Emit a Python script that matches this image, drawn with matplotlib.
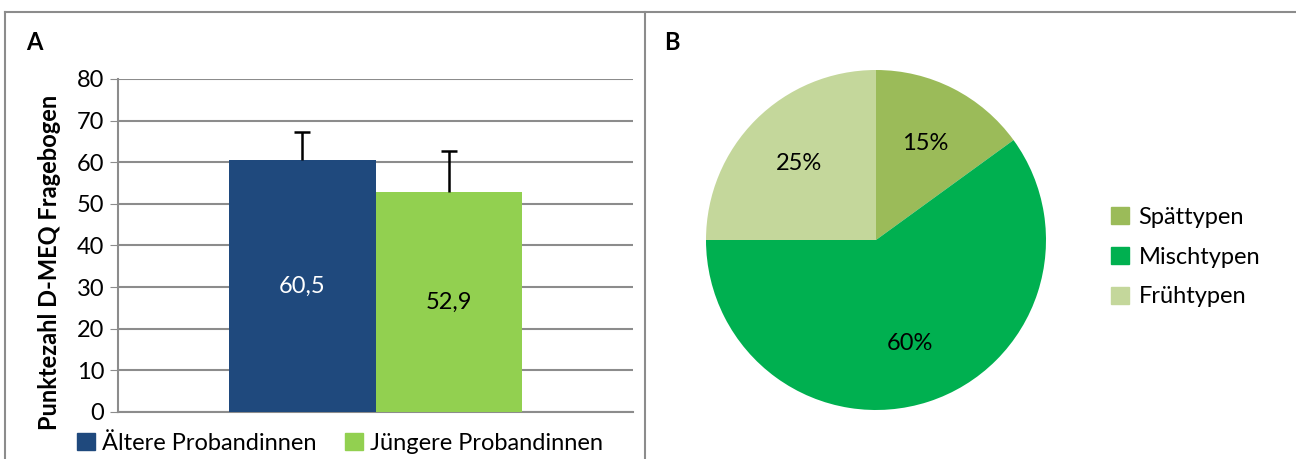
import matplotlib.pyplot as plt
from matplotlib.lines import Line2D
from matplotlib.patches import Patch

plt.rcParams['font.family'] = ['Lato', 'DejaVu Sans']

# bar chart data (panel A)
groups = ['Ältere Probandinnen', 'Jüngere Probandinnen']
means = [60.5, 52.9]
sds = [6.8, 9.9]
mean_labels = ['60,5', '52,9']
bar_colors = ['#1F497D', '#92D050']
yticks = [0, 10, 20, 30, 40, 50, 60, 70, 80]

# pie chart data (panel B)
types = ['Spättypen', 'Mischtypen', 'Frühtypen']
shares = [15, 60, 25]
pie_colors = ['#9BBB59', '#00B050', '#C4D79B']

fig = plt.figure(figsize=(12.96, 4.59), dpi=100)

# outer frame lines
frame_col = '#8c8c8c'
fig.add_artist(Line2D([5/1296, 1], [1 - 12/459] * 2, color=frame_col, lw=1.5))
fig.add_artist(Line2D([5/1296] * 2, [0, 1 - 12/459], color=frame_col, lw=1.5))
fig.add_artist(Line2D([645/1296] * 2, [0, 1 - 12/459], color=frame_col, lw=1.5))

# ---- panel A ----
ax = fig.add_axes([118/1296, 1 - 412/459, 515/1296, 333/459])
xs = list(range(len(means)))
bars = ax.bar(xs, means, width=1.0, color=bar_colors, zorder=3)
# upper error bars only, with a cap at the top
ax.errorbar(xs, means, yerr=[[0] * len(sds), sds], fmt='none', ecolor='black',
            elinewidth=1.8, capsize=0, zorder=4)
tops = [m + s for m, s in zip(means, sds)]
ax.scatter(xs, tops, marker='_', s=120, color='black', linewidths=1.8, zorder=4)
for b, lab, c in zip(bars, mean_labels, ['white', 'black']):
    ax.text(b.get_x() + b.get_width() / 2, b.get_height() / 2, lab,
            ha='center', va='center', fontsize=17, color=c, zorder=5)
ax.set_xlim(-1.258, 2.258)
ax.set_ylim(0, 80)
ax.set_yticks(yticks)
ax.tick_params(axis='y', labelsize=17, length=6, color=frame_col, pad=4)
ax.set_xticks([])
ax.yaxis.grid(True, color='#8c8c8c', lw=1.5, zorder=0)
for s in ['top', 'right']:
    ax.spines[s].set_visible(False)
ax.spines['left'].set_color(frame_col)
ax.spines['left'].set_linewidth(1.5)
ax.spines['bottom'].set_color(frame_col)
ax.spines['bottom'].set_linewidth(1.5)
ax.set_ylabel('Punktezahl D-MEQ Fragebogen', fontsize=17, fontweight='bold')
ax.yaxis.set_label_coords(-0.11, 0.45)
fig.text(26/1296, 1 - 42/459, 'A', fontsize=17, fontweight='bold', va='center')

handles = [Patch(color=c) for c in bar_colors]
fig.legend(handles, groups, loc='center', bbox_to_anchor=(340/1296, 1 - 443/459),
           ncol=2, frameon=False, fontsize=17, handlelength=0.75, handleheight=0.75,
           handletextpad=0.3, columnspacing=1.2)

# ---- panel B ----
pax = fig.add_axes([706/1296, 1 - 410/459, 340/1296, 340/459])
wedges, _, autotexts = pax.pie(shares, colors=pie_colors, startangle=90, counterclock=False,
                               autopct='%1.0f%%', pctdistance=0.64,
                               textprops={'fontsize': 17, 'color': 'black'})
pax.set_aspect('equal')
pax.set_xlim(-1, 1)
pax.set_ylim(-1, 1)
fig.text(664/1296, 1 - 42/459, 'B', fontsize=17, fontweight='bold', va='center')

phandles = [Patch(color=c) for c in pie_colors]
fig.legend(phandles, types, loc='center left', bbox_to_anchor=(1090/1296, 1 - 257/459),
           frameon=False, fontsize=17, handlelength=0.75, handleheight=0.75,
           handletextpad=0.4, labelspacing=0.8)

fig.savefig('out.png', dpi=100)
